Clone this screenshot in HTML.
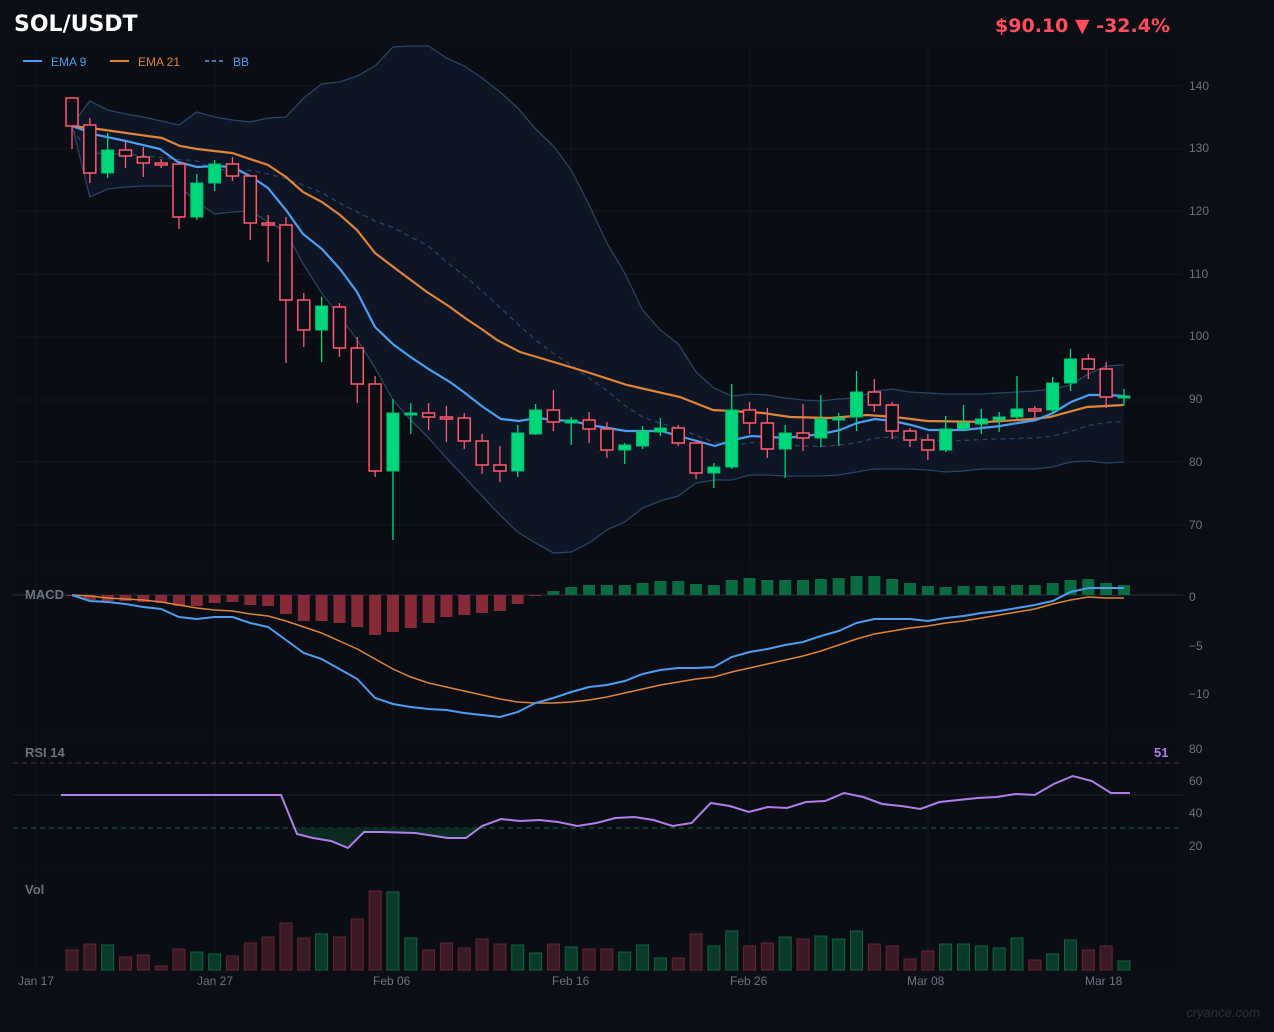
<!DOCTYPE html>
<html><head><meta charset="utf-8"><style>
html,body{margin:0;padding:0;background:#0b0e15;}
svg{display:block;font-family:"Liberation Sans","DejaVu Sans",sans-serif;}
</style></head><body>
<svg id="s" width="1274" height="1032" viewBox="0 0 1274 1032" xmlns="http://www.w3.org/2000/svg">
<rect width="1274" height="1032" fill="#0b0e15"/>
<rect x="13" y="45" width="1170" height="520" fill="#0a0d14"/>
<rect x="13" y="570" width="1170" height="160" fill="#0a0d14"/>
<rect x="13" y="737" width="1170" height="128" fill="#0a0d14"/>
<rect x="13" y="872" width="1170" height="98" fill="#0a0d14"/>
<g id="grid" stroke="#121722" stroke-width="1"></g>
<g id="bb"></g>
<g id="ema"></g>
<g id="candles"></g>
<g id="macd"></g>
<g id="rsi"></g>
<g id="vol"></g>
<text x="14" y="31" fill="#ffffff" font-size="22" font-weight="bold" style="font-family:'DejaVu Sans',sans-serif">SOL/USDT</text>
<text x="1170" y="32" fill="#ff4d5e" font-size="19" font-weight="bold" text-anchor="end" style="font-family:'DejaVu Sans',sans-serif">$90.10  ▼ -32.4%</text>
<line x1="23" y1="61" x2="42" y2="61" stroke="#4d9ef0" stroke-width="2"/>
<text x="51" y="66" fill="#4d9ef0" font-size="12">EMA 9</text>
<line x1="110" y1="61" x2="129" y2="61" stroke="#e0843a" stroke-width="2"/>
<text x="138" y="66" fill="#e0843a" font-size="12">EMA 21</text>
<line x1="205" y1="61" x2="224" y2="61" stroke="#4d9ef0" stroke-width="1.5" stroke-dasharray="4,3"/>
<text x="233" y="66" fill="#4d9ef0" font-size="12">BB</text>
<g fill="#6b7280" font-size="12">
<text x="1189" y="90">140</text><text x="1189" y="152">130</text><text x="1189" y="215">120</text>
<text x="1189" y="278">110</text><text x="1189" y="340">100</text><text x="1189" y="403">90</text>
<text x="1189" y="466">80</text><text x="1189" y="529">70</text>
<text x="1189" y="601">0</text><text x="1189" y="650">−5</text><text x="1189" y="698">−10</text>
<text x="1189" y="753">80</text><text x="1189" y="785">60</text><text x="1189" y="817">40</text><text x="1189" y="850">20</text>
<text x="18" y="985">Jan 17</text><text x="197" y="985">Jan 27</text><text x="373" y="985">Feb 06</text>
<text x="552" y="985">Feb 16</text><text x="730" y="985">Feb 26</text><text x="907" y="985">Mar 08</text><text x="1085" y="985">Mar 18</text>
</g>
<text x="25" y="599" fill="#6b7280" font-size="13" font-weight="bold">MACD</text>
<text x="25" y="757" fill="#6b7280" font-size="13" font-weight="bold">RSI 14</text>
<text x="1154" y="757" fill="#b07fe8" font-size="13" font-weight="bold">51</text>
<text x="25" y="894" fill="#6b7280" font-size="13" font-weight="bold">Vol</text>
<text x="1260" y="1017" fill="#2a2f3a" font-size="13" font-style="italic" text-anchor="end">cryance.com</text>
</svg>
<script>
const NS="http://www.w3.org/2000/svg";
function el(p,t,a){const e=document.createElementNS(NS,t);for(const k in a)e.setAttribute(k,a[k]);document.getElementById(p).appendChild(e);return e;}
const X=i=>72+i*17.83;
[36,215,393,571,750,928,1106].forEach(x=>{el("grid","line",{x1:x,y1:45,x2:x,y2:970});});
[86,149,211,274,337,400,462,525].forEach(y=>{el("grid","line",{x1:13,y1:y,x2:1183,y2:y});});
const C=[["r",98,126,98,149],["r",125,173,118,183],["g",150,173,133,178],["r",150,156,142,168],["r",157,163,147,177],["r",163,165,159,168],["r",164,217,164,229],["g",183,217,174,220],["g",164,183,160,191],["r",164,176,157,181],["r",176,223,176,240],["r",223,225,215,262],["r",225,300,217,363],["r",300,330,293,347],["g",306,330,297,362],["r",307,348,303,357],["r",348,384,337,403],["r",384,471,376,477],["g",413,471,399,540],["g",413,415,403,434],["r",413,417,403,430],["r",417,419,406,442],["r",418,441,413,449],["r",441,465,434,474],["r",465,471,446,482],["g",433,471,425,477],["g",410,434,404,435],["r",410,422,390,431],["g",420,423,417,445],["r",420,429,412,443],["r",429,450,422,458],["g",445,450,443,464],["g",431,446,426,449],["g",428,432,418,436],["r",428,443,425,446],["r",443,473,441,479],["g",467,473,463,488],["g",410,467,384,469],["r",410,423,402,434],["r",423,449,408,458],["g",433,449,425,478],["r",433,438,404,451],["g",419,438,395,447],["g",418,420,413,446],["g",392,417,371,431],["r",392,405,379,412],["r",405,431,402,439],["r",431,440,428,447],["r",440,450,434,460],["g",429,450,416,452],["g",423,429,405,431],["g",419,424,409,434],["g",417,420,412,432],["g",409,417,376,419],["r",409,411,406,418],["g",383,410,377,414],["g",359,383,349,391],["r",359,369,354,379],["r",369,397,362,408],["g",396,398,389,406]];
const BU=[125,101,110,114,117,121,125,112,117,120,122,118,117,98,84,82,76,66,47,46,46,58,66,78,92,108,129,146,170,205,243,273,310,330,344,372,388,396,394,395,398,400,401,399,398,391,389,392,393,394,394,394,393,392,391,389,385,374,366,365,365];
const BL=[125,197,189,187,186,186,186,202,214,212,211,222,232,265,293,316,340,368,400,420,438,458,477,496,515,532,543,553,552,543,530,522,508,501,496,483,480,480,475,475,476,476,476,475,472,469,469,469,470,472,471,469,469,469,469,467,462,461,463,462,458];
const n=60;
let up=[],lo=[],mid=[];
for(let i=0;i<n;i++){up.push(X(i)+","+BU[i]);lo.push(X(i)+","+BL[i]);mid.push(X(i)+","+((BU[i]+BL[i])/2+ (i>30?8:4)));}
el("bb","polygon",{points:up.concat(lo.slice().reverse()).join(" "),fill:"#0e1524"});
el("bb","polyline",{points:up.join(" "),fill:"none",stroke:"#2a4466","stroke-width":1.3});
el("bb","polyline",{points:lo.join(" "),fill:"none",stroke:"#2a4466","stroke-width":1.3});
el("bb","polyline",{points:mid.join(" "),fill:"none",stroke:"#2a4466","stroke-width":1.3,"stroke-dasharray":"5,4"});
const E9=[[72,126],[97,135],[126,141],[160,149],[178,162],[197,167],[215,166],[232,167],[250,176],[268,188],[286,210],[303,234],[322,249],[340,269],[357,292],[375,327],[394,345],[412,358],[430,370],[450,382],[465,393],[483,407],[501,419],[519,421],[537,418],[554,420],[572,421],[590,425],[608,428],[626,431],[644,431],[661,431],[679,436],[697,441],[715,446],[733,440],[751,436],[769,437],[786,438],[804,436],[822,434],[840,430],[857,423],[875,419],[893,421],[911,425],[929,430],[947,430],[964,430],[982,428],[1000,426],[1018,423],[1036,420],[1053,413],[1071,402],[1089,395],[1107,395],[1124,396]];
const E21=[[72,126],[98,129],[162,138],[180,146],[197,149],[232,153],[268,165],[286,177],[303,192],[322,202],[340,215],[357,230],[375,253],[400,272],[427,292],[450,307],[465,318],[483,330],[497,340],[520,352],[557,363],[590,373],[627,385],[680,397],[713,410],[747,412],[763,413],[790,417],[830,418],[867,415],[895,417],[927,421],[987,422],[1033,419],[1050,417],[1087,407],[1123,405]];
el("ema","polyline",{points:E21.map(p=>p.join(",")).join(" "),fill:"none",stroke:"#e0843a","stroke-width":2.2});
el("ema","polyline",{points:E9.map(p=>p.join(",")).join(" "),fill:"none",stroke:"#4d9ef0","stroke-width":2.2});
C.forEach((c,i)=>{const x=X(i);const col=c[0]=="g"?"#00d67a":"#ff5a6e";
 el("candles","line",{x1:x,y1:c[3],x2:x,y2:c[4],stroke:col,"stroke-width":1.3});
 let h=Math.max(c[2]-c[1],2);
 if(c[0]=="g")el("candles","rect",{x:x-6,y:c[1],width:12,height:h,fill:"#00d67a",stroke:"#00c070","stroke-width":1});
 else el("candles","rect",{x:x-6,y:c[1],width:12,height:h,fill:"#0b0f17",stroke:col,"stroke-width":1.5});
});
el("macd","line",{x1:13,y1:595,x2:1183,y2:595,stroke:"#2a2f3a","stroke-width":1});
const H=[596,600,601,601,602,603,606,606,603,602,605,606,614,621,621,623,627,635,632,628,623,617,615,613,611,604,596,591,587,585,585,585,583,581,581,584,585,580,578,580,580,580,579,578,576,576,579,583,586,587,586,586,586,585,585,583,580,579,583,585];
H.forEach((v,i)=>{const x=X(i)-6;if(v>=595)el("macd","rect",{x:x,y:595,width:12,height:Math.max(v-595,0.5),fill:"#862a38"});else el("macd","rect",{x:x,y:v,width:12,height:595-v,fill:"#0b6b40"});});
const ML=[595,601,602,604,607,609,617,619,617,617,623,627,640,653,659,669,679,698,704,707,709,710,713,715,717,712,703,698,692,687,685,681,674,670,668,668,667,657,652,649,645,642,636,631,623,619,619,619,621,618,616,613,611,608,605,601,592,588,588,588];
const SL=[595,596,598,599,600,602,605,608,610,611,614,616,621,627,633,641,649,659,669,677,683,687,691,695,699,702,703,703,702,700,697,693,689,685,682,679,677,672,668,664,660,656,651,645,639,634,631,628,626,623,621,618,615,612,609,604,600,597,598,598];
el("macd","polyline",{points:SL.map((v,i)=>X(i)+","+v).join(" "),fill:"none",stroke:"#e0843a","stroke-width":1.5});
el("macd","polyline",{points:ML.map((v,i)=>X(i)+","+v).join(" "),fill:"none",stroke:"#4d9ef0","stroke-width":2});
el("rsi","line",{x1:13,y1:763,x2:1183,y2:763,stroke:"#4a2530","stroke-width":1.2,"stroke-dasharray":"5,4"});
el("rsi","line",{x1:13,y1:795,x2:1183,y2:795,stroke:"#1c212b","stroke-width":1});
el("rsi","line",{x1:13,y1:828,x2:1183,y2:828,stroke:"#0f5a3a","stroke-width":1.2,"stroke-dasharray":"5,4"});
let R=[[61,795],[281,795],[297,834],[313,838],[331,841],[348,848],[364,832],[380,832],[415,833],[448,838],[466,838]];
const RV=[826,819,821,820,822,826,823,818,817,820,826,823,803,806,812,807,808,802,801,793,797,804,806,809,802,800,798,797,794,795,784,776,781,793,793];
RV.forEach((v,k)=>R.push([482+k*(1130-482)/(RV.length-1),v]));
el("rsi","polygon",{points:"297,828 297,834 313,838 331,841 348,848 364,832 380,832 415,833 448,838 466,838 482,826 482,828",fill:"#0b2a22"});
el("rsi","polyline",{points:R.map(p=>p.join(",")).join(" "),fill:"none",stroke:"#b07fe8","stroke-width":2});
const V=[950,944,945,957,955,966,949,952,954,956,943,937,923,938,934,937,919,891,892,938,950,943,948,939,944,945,953,944,947,949,949,952,945,958,958,934,946,931,946,943,937,939,936,939,931,944,946,959,951,944,944,946,948,938,960,954,940,950,946,961];
V.forEach((v,i)=>{const g=C[i][0]=="g";el("vol","rect",{x:X(i)-6,y:v,width:12,height:970-v,fill:g?"#0b3a2a":"#3a1a24",stroke:g?"#0e6640":"#6b2232","stroke-width":1});});
</script>
</body></html>
